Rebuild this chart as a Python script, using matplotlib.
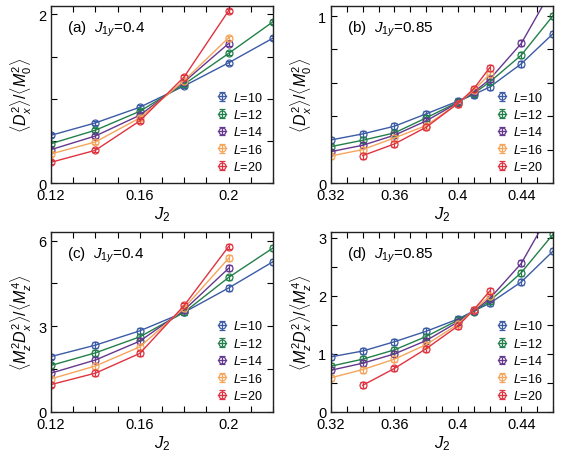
import numpy as np
import matplotlib
matplotlib.use("Agg")
import matplotlib.pyplot as plt
from matplotlib.ticker import MultipleLocator
from matplotlib.container import ErrorbarContainer
from matplotlib.legend_handler import HandlerErrorbar

plt.rcParams['font.family'] = ['Liberation Sans', 'DejaVu Sans']
plt.rcParams['mathtext.fontset'] = 'custom'
plt.rcParams['mathtext.rm'] = 'Liberation Sans'
plt.rcParams['mathtext.it'] = 'Liberation Sans:italic'

sizes = [10, 12, 14, 16, 20]
colors = ['#3b5ba5', '#23804a', '#65388f', '#f5a55a', '#df3340']

# J1y = 0.4 panels
j2_a = [0.12, 0.14, 0.16, 0.18, 0.20, 0.22]
dx_a = {
    10: [0.566, 0.713, 0.899, 1.152, 1.426, 1.719],
    12: [0.467, 0.626, 0.851, 1.172, 1.537, 1.913],
    14: [0.396, 0.558, 0.804, 1.200, 1.655],
    16: [0.345, 0.487, 0.772, 1.216, 1.723],
    20: [0.246, 0.388, 0.737, 1.259, 2.044],
}
mz_c = {
    10: [1.94, 2.34, 2.84, 3.49, 4.34, 5.26],
    12: [1.63, 2.07, 2.63, 3.49, 4.71, 5.74],
    14: [1.36, 1.82, 2.48, 3.57, 5.03],
    16: [1.16, 1.61, 2.28, 3.64, 5.38],
    20: [0.96, 1.36, 2.05, 3.73, 5.79],
}

# J1y = 0.85 panels
j2_b = [0.32, 0.34, 0.36, 0.38, 0.40, 0.41, 0.42, 0.44, 0.46]
j2_b20 = [0.34, 0.36, 0.38, 0.40, 0.41, 0.42]
dx_b = {
    10: [0.258, 0.294, 0.340, 0.414, 0.490, 0.530, 0.574, 0.714, 0.894],
    12: [0.218, 0.256, 0.300, 0.390, 0.484, 0.536, 0.604, 0.766, 1.002],
    14: [0.188, 0.226, 0.286, 0.372, 0.480, 0.544, 0.620, 0.836, 1.17],
    16: [0.162, 0.200, 0.270, 0.344, 0.476, 0.556, 0.650],
    20: [0.164, 0.234, 0.334, 0.476, 0.564, 0.690],
}
mz_d = {
    10: [0.95, 1.05, 1.21, 1.39, 1.60, 1.74, 1.87, 2.24, 2.77],
    12: [0.79, 0.91, 1.07, 1.30, 1.58, 1.73, 1.91, 2.40, 3.06],
    14: [0.72, 0.84, 1.00, 1.23, 1.55, 1.74, 1.95, 2.56, 3.52],
    16: [0.59, 0.73, 0.91, 1.16, 1.51, 1.76, 1.99],
    20: [0.46, 0.75, 1.09, 1.48, 1.76, 2.08],
}

err_a, err_b, err_c, err_d = 0.024, 0.018, 0.10, 0.05

ylabel_dx = r'$\langle D_x^2\rangle/\langle M_0^2\rangle$'
ylabel_mz = r'$\langle M_z^2 D_x^2\rangle/\langle M_z^4\rangle$'

fig = plt.figure(figsize=(5.64, 4.64), dpi=100)
w, h_top, h_bot = 222 / 564, 177 / 464, 180 / 464
ax_a = fig.add_axes([51 / 564, 1 - 184 / 464, w, h_top])
ax_b = fig.add_axes([331 / 564, 1 - 184 / 464, w, h_top])
ax_c = fig.add_axes([51 / 564, 1 - 413 / 464, w, h_bot])
ax_d = fig.add_axes([331 / 564, 1 - 413 / 464, w, h_bot])

panels = [
    (ax_a, dx_a, err_a, 'a', '0.4', ylabel_dx, (0.12, 0.22), (0, 2.1), [0, 2], 0.5),
    (ax_b, dx_b, err_b, 'b', '0.85', ylabel_dx, (0.32, 0.46), (0, 1.06), [0, 1], 0.2),
    (ax_c, mz_c, err_c, 'c', '0.4', ylabel_mz, (0.12, 0.22), (0, 6.3), [0, 3, 6], 1.5),
    (ax_d, mz_d, err_d, 'd', '0.85', ylabel_mz, (0.32, 0.46), (0, 3.1), [0, 1, 2, 3], 0.5),
]

for ax, data, err, tag, j1y, ylab, xlim, ylim, yt, ymin in panels:
    low = xlim[0] < 0.3
    for L, c in zip(sizes, colors):
        y = data[L]
        if low:
            x = j2_a[:len(y)]
        elif L == 20:
            x = j2_b20
        else:
            x = j2_b[:len(y)]
        ax.errorbar(x, y, yerr=err, color=c, lw=1.0, marker='o', ms=5,
                    mfc='none', mew=0.9, capsize=2.2, elinewidth=0.9,
                    label=r'$L$=%d' % L, clip_on=True)
    ax.set_xlim(*xlim)
    ax.set_ylim(*ylim)
    if low:
        ax.set_xticks([0.12, 0.16, 0.2])
        ax.set_xticklabels(['0.12', '0.16', '0.2'])
    else:
        ax.set_xticks([0.32, 0.36, 0.4, 0.44])
        ax.set_xticklabels(['0.32', '0.36', '0.4', '0.44'])
    ax.xaxis.set_minor_locator(MultipleLocator(0.01))
    ax.set_yticks(yt)
    ax.yaxis.set_minor_locator(MultipleLocator(ymin))
    ax.tick_params(which='both', direction='in', top=True, right=True,
                   labelsize=10.5, width=0.8)
    ax.tick_params(which='major', length=4)
    ax.tick_params(which='minor', length=4)
    for s in ax.spines.values():
        s.set_linewidth(1.0)
        s.set_color('#222222')
    ax.set_xlabel(r'$J_2$', fontsize=12, labelpad=2)
    ax.set_ylabel(ylab, fontsize=11.5, labelpad=3)
    ax.text(0.07, 0.93, '(%s)  $J_{1y}$=%s' % (tag, j1y), transform=ax.transAxes,
            fontsize=11, va='top', ha='left')
    ax.legend(loc='lower right', frameon=False, fontsize=9, handlelength=0.6,
              handletextpad=0.6, labelspacing=0.35, borderaxespad=0.4,
              handler_map={ErrorbarContainer: HandlerErrorbar(yerr_size=0.35)})

fig.savefig('out.png', dpi=100)
